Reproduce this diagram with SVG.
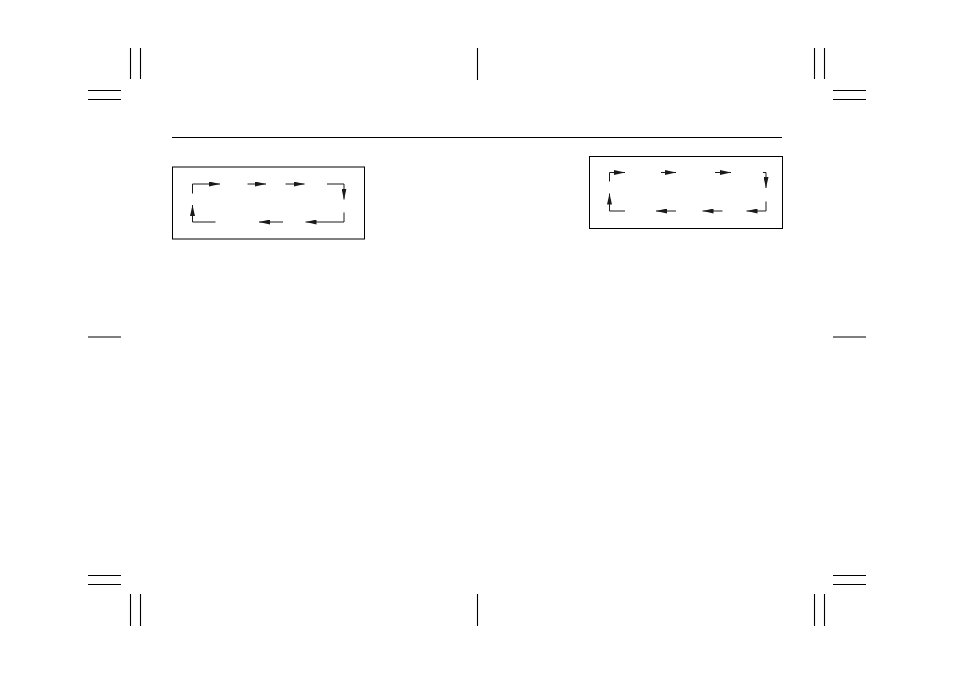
<svg xmlns="http://www.w3.org/2000/svg" width="954" height="674" viewBox="0 0 954 674">
<style>
.mark{stroke:#000;stroke-width:1.1;fill:none}
.box{stroke:#000;stroke-width:1;fill:#fff}
.conn{stroke:#1a1a1a;stroke-width:1;fill:none;marker-end:url(#ah)}
</style>
<defs>
<marker id="ah" viewBox="0 0 11 5" markerWidth="11" markerHeight="5" refX="11" refY="2.5" orient="auto" markerUnits="userSpaceOnUse">
<path d="M0,0 L11,2.5 L0,5 Z" fill="#1a1a1a"/>
</marker>
</defs>
<rect width="954" height="674" fill="#fff"/>
<g id="crop-marks" class="mark">
<line x1="130.5" y1="48" x2="130.5" y2="79"/>
<line x1="140.5" y1="48" x2="140.5" y2="79"/>
<line x1="88" y1="90.5" x2="121" y2="90.5"/>
<line x1="88" y1="99.5" x2="121" y2="99.5"/>
<line x1="814.5" y1="48" x2="814.5" y2="79"/>
<line x1="824.5" y1="48" x2="824.5" y2="79"/>
<line x1="833" y1="90.5" x2="866" y2="90.5"/>
<line x1="833" y1="99.5" x2="866" y2="99.5"/>
<line x1="477.5" y1="48" x2="477.5" y2="80"/>
<line x1="88" y1="337" x2="121" y2="337"/>
<line x1="833" y1="337" x2="866" y2="337"/>
<line x1="88" y1="575.5" x2="121" y2="575.5"/>
<line x1="88" y1="584.5" x2="121" y2="584.5"/>
<line x1="130.5" y1="594" x2="130.5" y2="626"/>
<line x1="140.5" y1="594" x2="140.5" y2="626"/>
<line x1="833" y1="575.5" x2="866" y2="575.5"/>
<line x1="833" y1="584.5" x2="866" y2="584.5"/>
<line x1="814.5" y1="594" x2="814.5" y2="626"/>
<line x1="824.5" y1="594" x2="824.5" y2="626"/>
<line x1="477.5" y1="594" x2="477.5" y2="626"/>
</g>
<g id="header-rule" class="mark">
<line x1="172" y1="137.5" x2="782" y2="137.5"/>
</g>
<g id="left-box">
<rect class="box" x="172.5" y="167" width="192" height="72"/>
</g>
<g id="right-box">
<rect class="box" x="589.5" y="156.5" width="193" height="72"/>
</g>
<g id="connectors">
<polyline class="conn" points="192.5,193.5 192.5,184 220,184"/>
<line class="conn" x1="247.5" y1="184" x2="266" y2="184"/>
<line class="conn" x1="285.5" y1="184" x2="304.5" y2="184"/>
<polyline class="conn" points="327,184 344,184 344,199.5"/>
<polyline class="conn" points="344,212.5 344,222 305.5,222"/>
<line class="conn" x1="283" y1="222" x2="259" y2="222"/>
<polyline class="conn" points="215.5,222 192.5,222 192.5,205"/>
<polyline class="conn" points="609.5,181.5 609.5,172.5 625,172.5"/>
<line class="conn" x1="661" y1="172.5" x2="676" y2="172.5"/>
<line class="conn" x1="715" y1="172.5" x2="731" y2="172.5"/>
<polyline class="conn" points="763,172.5 766,172.5 766,188"/>
<polyline class="conn" points="766,201.5 766,211 746.5,211"/>
<line class="conn" x1="722.5" y1="211" x2="702.5" y2="211"/>
<line class="conn" x1="676" y1="211" x2="656" y2="211"/>
<polyline class="conn" points="625,211 609.5,211 609.5,193.5"/>
</g>
</svg>
